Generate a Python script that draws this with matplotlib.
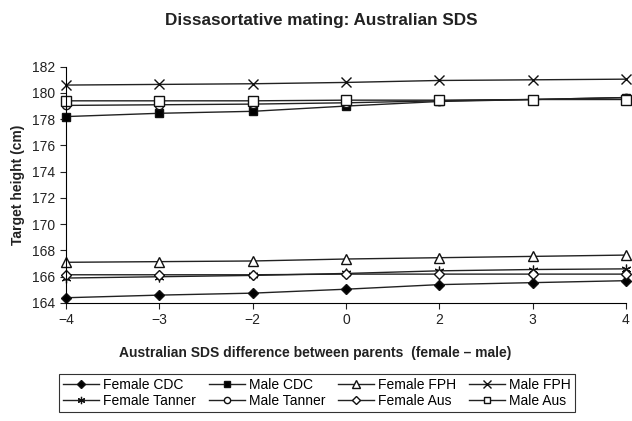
import matplotlib.pyplot as plt

plt.rcParams['font.family'] = ['Liberation Sans', 'DejaVu Sans']

x_labels = ['\u22124', '\u22123', '\u22122', '0', '2', '3', '4']

female_cdc = [164.4, 164.6, 164.75, 165.05, 165.4, 165.55, 165.7]
male_cdc = [178.2, 178.45, 178.6, 179.0, 179.35, 179.5, 179.65]
female_fph = [167.1, 167.15, 167.2, 167.35, 167.45, 167.55, 167.65]
male_fph = [180.6, 180.65, 180.7, 180.8, 180.95, 181.0, 181.05]
female_tanner = [165.9, 166.0, 166.1, 166.25, 166.45, 166.55, 166.6]
male_tanner = [179.05, 179.1, 179.15, 179.25, 179.4, 179.5, 179.65]
female_aus = [166.15, 166.15, 166.15, 166.2, 166.2, 166.2, 166.2]
male_aus = [179.4, 179.4, 179.4, 179.45, 179.45, 179.5, 179.5]

series = [
    ('Female CDC', female_cdc, dict(marker='D', mfc='black', ms=5)),
    ('Male CDC', male_cdc, dict(marker='s', mfc='black', ms=6)),
    ('Female FPH', female_fph, dict(marker='^', mfc='white', ms=7)),
    ('Male FPH', male_fph, dict(marker='x', ms=7, mew=1.0)),
    ('Female Tanner', female_tanner, dict(marker=(6, 2, 0), ms=7, mew=0.9)),
    ('Male Tanner', male_tanner, dict(marker='o', mfc='white', ms=6)),
    ('Female Aus', female_aus, dict(marker='D', mfc='white', ms=5.5)),
    ('Male Aus', male_aus, dict(marker='s', mfc='white', ms=6.5)),
]

fig = plt.figure(figsize=(6.32, 4.21), dpi=100)
ax = fig.add_axes([0.1044, 0.2803, 0.886, 0.5613])

xs = list(range(len(x_labels)))
handles = []
for name, vals, style in series:
    h, = ax.plot(xs, vals, color='#222222', lw=1.0, mec='#111111', label=name,
                 clip_on=False, **style)
    handles.append(h)

ax.set_xlim(0, len(x_labels) - 1)
ax.set_ylim(164, 182)
ax.set_xticks(xs)
ax.set_xticklabels(x_labels)
ax.set_yticks(range(164, 183, 2))
ax.tick_params(direction='out', length=4, width=0.8, labelsize=10, colors='#222222')
for s in ['top', 'right']:
    ax.spines[s].set_visible(False)
for s in ['left', 'bottom']:
    ax.spines[s].set_linewidth(0.8)

fig.text(0.508, 0.952, 'Dissasortative mating: Australian SDS', ha='center', va='center',
         fontsize=12.3, fontweight='bold', color='#222222')
fig.text(0.498, 1 - 353 / 421, 'Australian SDS difference between parents  (female \u2013 male)',
         ha='center', va='center', fontsize=10, fontweight='bold', color='#222222')
fig.text(18 / 632, 0.5613 / 2 + 0.2803, 'Target height (cm)', rotation=90,
         ha='center', va='center', fontsize=10, fontweight='bold', color='#222222')

# legend fills column by column, reference reads row by row
order = [0, 4, 1, 5, 2, 6, 3, 7]
leg = fig.legend(handles=[handles[i] for i in order], ncol=4, loc='center',
                 bbox_to_anchor=(317 / 632, 1 - 393 / 421),
                 fontsize=10, frameon=True, fancybox=False, edgecolor='black',
                 handlelength=2.6, handletextpad=0.3, columnspacing=0.9,
                 borderpad=0.3, labelspacing=0.15, markerscale=0.75)
leg.get_frame().set_linewidth(0.8)

fig.savefig('out.png', dpi=100)
